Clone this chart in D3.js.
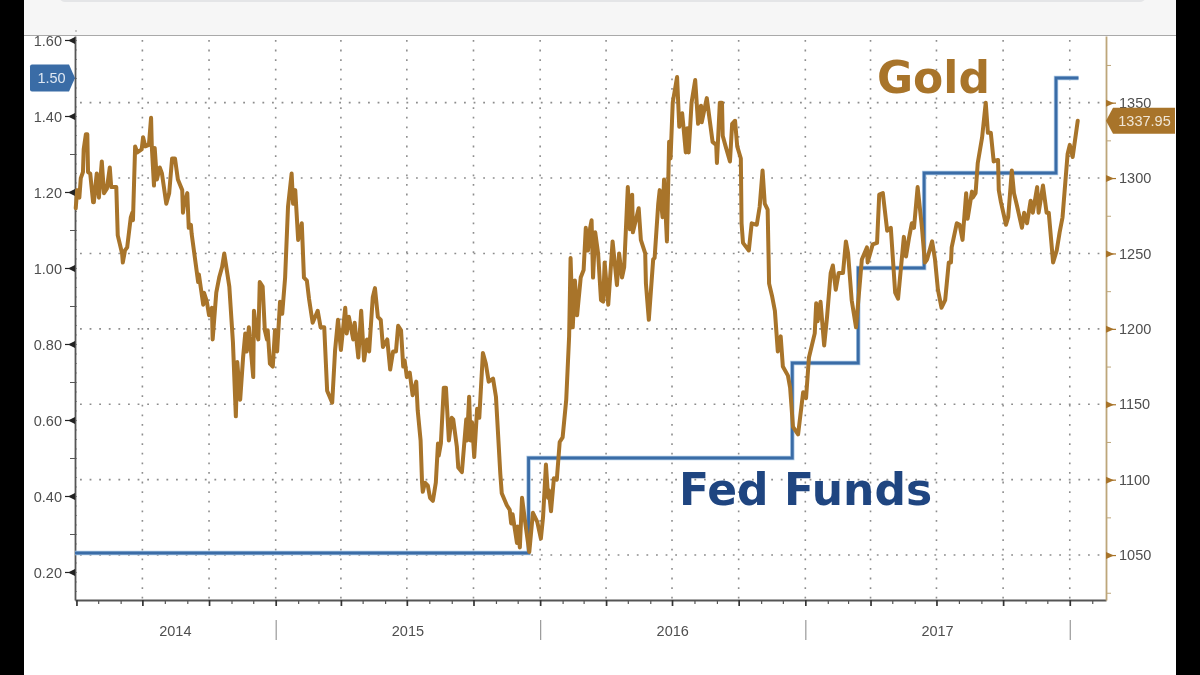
<!DOCTYPE html>
<html><head><meta charset="utf-8">
<script src="https://cdnjs.cloudflare.com/ajax/libs/d3/7.8.5/d3.min.js"></script>
<style>html,body{margin:0;padding:0;background:#fff;overflow:hidden}svg{display:block;filter:blur(0.55px)}</style>
</head><body><svg id="c" width="1200" height="675" font-family="Liberation Sans"></svg>
<script>
const startDate = "2014-03-30", endDate = "2018-02-20";
const goldDays = [1,3,6,8,11,12,15,17,18,21,25,26,30,33,37,40,44,48,50,57,59,65,66,69,72,77,79,80,83,86,92,94,97,102,105,106,109,110,113,117,120,126,130,134,138,142,148,149,150,155,157,160,161,170,171,177,178,182,185,189,190,195,199,203,206,213,218,222,224,228,232,235,237,240,246,247,250,253,255,259,262,265,266,269,273,276,279,283,286,290,294,299,301,304,308,313,316,320,323,328,335,339,344,348,355,359,363,367,373,375,378,384,386,391,395,399,403,406,411,414,418,422,425,431,435,439,443,446,450,453,455,458,462,466,471,473,477,479,480,483,487,490,494,498,501,502,505,509,512,516,520,522,527,529,534,540,541,544,546,548,551,555,558,563,567,571,577,581,587,589,596,600,602,604,610,611,614,617,621,627,632,638,643,646,650,653,654,657,661,665,669,673,678,682,684,687,690,693,698,702,705,708,711,713,715,718,722,726,729,731,736,738,742,748,751,755,758,763,766,769,770,778,781,787,788,792,798,800,805,807,811,813,817,820,822,825,831,834,838,840,843,845,847,851,856,860,864,865,872,880,885,886,890,893,894,898,904,907,911,914,919,920,922,930,934,941,945,949,952,956,958,962,966,970,974,977,984,987,991,998,1005,1009,1013,1021,1023,1025,1029,1034,1038,1043,1046,1050,1054,1060,1064,1067,1072,1078,1086,1093,1094,1101,1107,1110,1115,1121,1126,1132,1136,1144,1147,1151,1155,1158,1163,1169,1173,1176,1183,1187,1191,1196,1201,1206,1209,1210,1217,1221,1225,1230,1232,1238,1239,1243,1246,1252,1257,1260,1264,1268,1274,1275,1278,1285,1288,1293,1296,1300,1307,1310,1314,1319,1322,1328,1330,1336,1341,1344,1350,1355,1359,1363,1370,1373,1377,1384];
const goldPrices = [1280,1292,1287,1300,1304,1319,1329,1329,1304,1303,1284,1284,1303,1287,1311,1290,1293,1307,1294,1294,1262,1250,1244,1252,1254,1274,1277,1272,1321,1317,1319,1327,1321,1322,1340,1321,1295,1320,1299,1307,1303,1283,1290,1313,1313,1299,1292,1277,1281,1290,1267,1269,1263,1231,1236,1216,1224,1218,1209,1214,1193,1224,1234,1241,1250,1228,1191,1142,1178,1153,1181,1197,1185,1201,1168,1212,1199,1193,1231,1228,1199,1193,1199,1177,1175,1199,1185,1218,1210,1234,1281,1303,1283,1292,1259,1270,1234,1232,1220,1204,1212,1201,1201,1159,1151,1186,1206,1186,1214,1197,1208,1193,1204,1181,1212,1179,1193,1185,1221,1227,1208,1206,1188,1193,1173,1185,1185,1202,1199,1175,1179,1168,1171,1156,1165,1146,1126,1098,1092,1098,1096,1088,1086,1098,1124,1116,1124,1161,1161,1126,1141,1140,1122,1108,1105,1140,1126,1155,1126,1138,1115,1147,1141,1184,1177,1165,1167,1155,1104,1091,1083,1080,1071,1077,1058,1069,1055,1088,1073,1052,1078,1072,1061,1075,1110,1088,1093,1079,1101,1100,1125,1128,1153,1195,1247,1201,1232,1209,1234,1239,1267,1252,1267,1272,1234,1264,1250,1219,1218,1244,1216,1230,1258,1229,1250,1234,1241,1294,1266,1289,1264,1280,1259,1250,1230,1206,1246,1247,1283,1292,1274,1299,1258,1324,1313,1350,1367,1334,1343,1333,1317,1333,1317,1350,1365,1336,1348,1337,1353,1324,1322,1310,1350,1350,1328,1321,1311,1336,1338,1321,1313,1270,1257,1252,1270,1269,1281,1305,1283,1279,1230,1222,1212,1185,1195,1175,1169,1161,1135,1130,1158,1154,1181,1197,1217,1205,1218,1189,1208,1237,1242,1226,1237,1237,1258,1250,1219,1201,1246,1254,1244,1256,1257,1289,1290,1265,1267,1224,1220,1261,1248,1260,1270,1267,1294,1267,1244,1246,1258,1246,1226,1214,1219,1244,1244,1254,1270,1269,1259,1290,1273,1291,1287,1290,1310,1327,1350,1330,1330,1311,1312,1292,1284,1269,1274,1305,1290,1282,1267,1277,1270,1285,1277,1294,1277,1295,1277,1277,1244,1252,1264,1274,1316,1322,1314,1337.95];
const fedDates = ["2014-03-30","2015-12-16","2016-12-14","2017-03-15","2017-06-14","2017-12-13","2018-01-13"];
const fedRates = [0.25,0.50,0.75,1.00,1.25,1.50,1.50];
const leftTicks = [0.20,0.40,0.60,0.80,1.00,1.20,1.40,1.60];
const rightTicks = [1050,1100,1150,1200,1250,1300,1350];
const years = [2014,2015,2016,2017];
const labelGold = "Gold", labelFed = "Fed Funds";

const GOLD="#A8742A", BLUE="#3A6CA6", TEXT="#4f4f4f", TAN="#BDA67A";
const L=75,R=1106,T=36,B=600;
const svg=d3.select("#c");
const D=s=>new Date(s+"T00:00:00Z");
const x=d3.scaleUtc().domain([D(startDate),D(endDate)]).range([L,R]);
const yL=d3.scaleLinear().domain([0.1263,1.6105]).range([B,T]);
const yR=d3.scaleLinear().domain([1020.2,1394.2]).range([B,T]);

// frame
svg.append("rect").attr("width",1200).attr("height",675).attr("fill","#fff");
svg.append("rect").attr("x",24).attr("width",1152).attr("height",35).attr("fill","#f6f6f6");
svg.append("rect").attr("x",60).attr("y",-6).attr("width",1085).attr("height",8).attr("rx",5).attr("fill","#e4e5e7");
svg.append("line").attr("x1",24).attr("x2",1176).attr("y1",35.5).attr("y2",35.5).attr("stroke","#a9a9a9");
svg.append("rect").attr("width",24).attr("height",675).attr("fill","#000");
svg.append("rect").attr("x",1176).attr("width",24).attr("height",675).attr("fill","#000");

// grid
const quarters=d3.utcMonth.range(D("2014-07-01"),D(endDate),3);
const grid=svg.append("g").attr("stroke","#8d8d8d").attr("stroke-width",1.6).attr("stroke-dasharray","1.8 7.8");
grid.selectAll(".v").data(quarters).join("line").attr("x1",d=>x(d)).attr("x2",d=>x(d)).attr("y1",T+4).attr("y2",B);
grid.selectAll(".h").data(rightTicks).join("line").attr("x1",L+5).attr("x2",R).attr("y1",d=>yR(d)).attr("y2",d=>yR(d));

// bottom axis
const months=d3.utcMonth.range(D(startDate),D(endDate));
const gx=svg.append("g").attr("transform",`translate(0,${B})`)
  .call(d3.axisBottom(x).tickValues(months).tickSize(4).tickSizeOuter(0).tickFormat(""));
gx.select(".domain").attr("stroke","#555").attr("stroke-width",1.8);
gx.selectAll(".tick line").attr("stroke",d=>d.getUTCMonth()%3===0?"#333":"#555").attr("stroke-width",d=>d.getUTCMonth()%3===0?1.7:1.2).attr("y2",d=>d.getUTCMonth()%3===0?6:4);
// year separators and labels
const yearEnds=years.map(y=>new Date(Date.UTC(y+1,0,1)));
svg.append("g").selectAll("line").data(yearEnds).join("line")
  .attr("x1",d=>x(d)+.5).attr("x2",d=>x(d)+.5).attr("y1",620).attr("y2",640).attr("stroke","#999").attr("stroke-width",1.2);
svg.append("g").selectAll("text").data(years).join("text")
  .attr("x",y=>(x(new Date(Math.max(Date.UTC(y,0,1),+D(startDate))))+x(new Date(Date.UTC(y+1,0,1))))/2)
  .attr("y",636).attr("text-anchor","middle").attr("font-size",14.5).attr("font-weight",500).attr("fill",TEXT).text(d=>d);

// left axis
const gLd=svg.append("g").attr("transform",`translate(${L},0)`)
  .call(d3.axisRight(yL).tickValues(d3.range(0,60).map(i=>0.15+i*0.025)).tickSize(2).tickSizeOuter(0).tickFormat(""));
gLd.select(".domain").remove();gLd.selectAll(".tick line").attr("stroke","#999").attr("stroke-width",1);
const gLm=svg.append("g").attr("transform",`translate(${L},0)`)
  .call(d3.axisLeft(yL).tickValues(leftTicks.slice(0,-1).map(v=>v+0.1)).tickSize(5).tickSizeOuter(0).tickFormat(""));
gLm.select(".domain").remove();gLm.selectAll(".tick line").attr("stroke","#555").attr("stroke-width",1);
const gL=svg.append("g").attr("transform",`translate(${L},0)`)
  .call(d3.axisLeft(yL).tickValues(leftTicks).tickSize(10).tickSizeOuter(0).tickPadding(3).tickFormat(d3.format(".2f")));
gL.select(".domain").attr("stroke","#555").attr("stroke-width",1.8);
gL.selectAll(".tick line").attr("stroke","#222").attr("stroke-width",1.2);
gL.selectAll(".tick").append("path").attr("d","M0,-3.5L-7,0L0,3.5Z").attr("fill","#222");
gL.selectAll(".tick text").attr("font-size",14.5).attr("fill",TEXT).attr("dy","0.4em");

// right axis
const gRm=svg.append("g").attr("transform",`translate(${R},0)`)
  .call(d3.axisRight(yR).tickValues([1025].concat(rightTicks.map(v=>v+25))).tickSize(5).tickSizeOuter(0).tickFormat(""));
gRm.select(".domain").remove();gRm.selectAll(".tick line").attr("stroke",TAN).attr("stroke-width",1);
const gR=svg.append("g").attr("transform",`translate(${R},0)`)
  .call(d3.axisRight(yR).tickValues(rightTicks).tickSize(10).tickSizeOuter(0).tickPadding(3).tickFormat(d3.format("d")));
gR.select(".domain").attr("stroke",TAN).attr("stroke-width",1.8);
gR.selectAll(".tick line").attr("stroke",GOLD).attr("stroke-width",1.2);
gR.selectAll(".tick").append("path").attr("d","M0,-3.5L8,0L0,3.5Z").attr("fill",GOLD);
gR.selectAll(".tick text").attr("font-size",14.5).attr("fill",TEXT);

// fed funds
const fedData=fedDates.map((d,i)=>[D(d),fedRates[i]]);
const fedLine=d3.line().x(d=>x(d[0])).y(d=>yL(d[1])).curve(d3.curveStepAfter);
svg.append("path").datum(fedData).attr("d",fedLine).attr("fill","none").attr("stroke","#a9c6e4").attr("stroke-width",4.4);
svg.append("path").datum(fedData).attr("d",fedLine).attr("fill","none").attr("stroke",BLUE).attr("stroke-width",2.8);

// gold
const goldData=goldDays.map((d,i)=>[d3.utcDay.offset(D(startDate),d),goldPrices[i]]);
svg.append("path").datum(goldData)
  .attr("d",d3.line().x(d=>x(d[0])).y(d=>yR(d[1])))
  .attr("fill","none").attr("stroke",GOLD).attr("stroke-width",4).attr("stroke-linejoin","round").attr("stroke-linecap","round");

// value tags
const lastFed=fedRates[fedRates.length-1], lastGold=goldPrices[goldPrices.length-1];
const tb=svg.append("g").attr("transform",`translate(${L},${yL(lastFed)})`);
tb.append("path").attr("d","M0,0L-6,-13.5L-43,-13.5Q-45,-13.5 -45,-11.5L-45,11.5Q-45,13.5 -43,13.5L-6,13.5Z").attr("fill",BLUE);
tb.append("text").attr("x",-23.5).attr("y",5.2).attr("text-anchor","middle").attr("font-size",14.5).attr("fill","#dfe8f3").text(d3.format(".2f")(lastFed));
const tg=svg.append("g").attr("transform",`translate(${R},${yR(lastGold)})`);
tg.append("path").attr("d","M0,0L7,-13L69,-13L69,13L7,13Z").attr("fill",GOLD);
tg.append("text").attr("x",38.5).attr("y",5.2).attr("text-anchor","middle").attr("font-size",14.5).attr("fill","#f0e6d6").text(d3.format(".2f")(lastGold));

// annotations
svg.append("text").attr("x",877).attr("y",93).attr("font-family","DejaVu Sans").attr("font-weight","bold").attr("font-size",44).attr("fill",GOLD).text(labelGold);
svg.append("text").attr("x",679).attr("y",505).attr("font-family","DejaVu Sans").attr("font-weight","bold").attr("font-size",44).attr("fill","#1F4580").text(labelFed);
</script></body></html>
